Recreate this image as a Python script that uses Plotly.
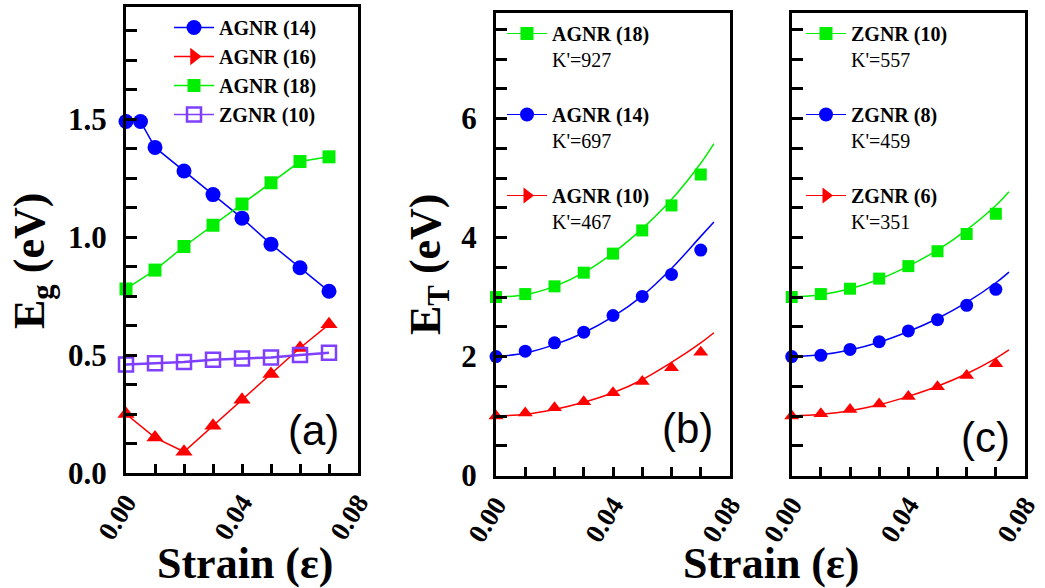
import plotly.graph_objects as go

# ---------------- data ----------------
# (a) band gap vs. uniaxial strain
strain_a = [0.0, 0.01, 0.02, 0.03, 0.04, 0.05, 0.06, 0.07]
strain_a14 = [0.0, 0.005, 0.01, 0.02, 0.03, 0.04, 0.05, 0.06, 0.07]
eg_agnr14 = [1.49, 1.49, 1.38, 1.28, 1.18, 1.08, 0.97, 0.87, 0.77]
eg_agnr16 = [0.25, 0.15, 0.09, 0.20, 0.31, 0.42, 0.53, 0.63]
eg_agnr18 = [0.78, 0.86, 0.96, 1.05, 1.14, 1.23, 1.32, 1.34]
eg_zgnr10 = [0.46, 0.465, 0.47, 0.48, 0.485, 0.49, 0.50, 0.51]

# (b), (c) total energy vs. strain (symbols) and fitted curves (lines)
strain_t = [0.0, 0.01, 0.02, 0.03, 0.04, 0.05, 0.06, 0.07]
strain_fit = [0.0, 0.01, 0.02, 0.03, 0.04, 0.05, 0.06, 0.07, 0.0745]

et_agnr18 = [3.00, 3.05, 3.18, 3.41, 3.73, 4.12, 4.54, 5.06]
et_agnr14 = [2.00, 2.09, 2.23, 2.41, 2.69, 3.01, 3.38, 3.79]
et_agnr10 = [1.00, 1.05, 1.14, 1.24, 1.39, 1.58, 1.81, 2.07]
fit_agnr18 = [3.00, 3.04, 3.18, 3.41, 3.74, 4.15, 4.64, 5.25, 5.58]
fit_agnr14 = [2.00, 2.06, 2.20, 2.40, 2.67, 3.02, 3.48, 4.02, 4.26]
fit_agnr10 = [1.00, 1.03, 1.11, 1.23, 1.39, 1.61, 1.90, 2.23, 2.40]

et_zgnr10 = [3.00, 3.05, 3.14, 3.31, 3.52, 3.77, 4.06, 4.40]
et_zgnr8 = [2.00, 2.02, 2.12, 2.25, 2.43, 2.62, 2.86, 3.13]
et_zgnr6 = [1.00, 1.04, 1.11, 1.20, 1.33, 1.49, 1.68, 1.88]
fit_zgnr10 = [3.00, 3.04, 3.14, 3.30, 3.52, 3.79, 4.13, 4.54, 4.77]
fit_zgnr8 = [2.00, 2.03, 2.11, 2.24, 2.42, 2.64, 2.91, 3.24, 3.42]
fit_zgnr6 = [1.00, 1.03, 1.09, 1.19, 1.33, 1.50, 1.71, 1.97, 2.11]

names_a = ["AGNR (14)", "AGNR (16)", "AGNR (18)", "ZGNR (10)"]
names_b = ["AGNR (18)", "AGNR (14)", "AGNR (10)"]
kappa_b = ["927", "697", "467"]
names_c = ["ZGNR (10)", "ZGNR (8)", "ZGNR (6)"]
kappa_c = ["557", "459", "351"]

BLUE = "#0000FF"
RED = "#FF0000"
GREEN = "#00EE00"
PURPLE = "#7F3FFF"
SERIF = "Liberation Serif"

W, H = 1045, 588

fig = go.Figure()


def px_x(a, b):
    return [a / W, b / W]


def px_y(top, bottom):
    return [(H - bottom) / H, (H - top) / H]


# ---------------- panel (a) ----------------
def line_marker(x, y, color, symbol, size, ax, lw=1.5, mlw=0):
    marker = dict(symbol=symbol, size=size, color=color, line=dict(color=color, width=mlw))
    return go.Scatter(x=x, y=y, mode="lines+markers", line=dict(color=color, width=lw),
                      marker=marker, xaxis="x" + ax, yaxis="y" + ax,
                      showlegend=False, cliponaxis=False)


fig.add_trace(line_marker(strain_a14, eg_agnr14, BLUE, "circle", 15, ""))
fig.add_trace(line_marker(strain_a, eg_agnr16, RED, "triangle-up", 15, ""))
fig.add_trace(line_marker(strain_a, eg_agnr18, GREEN, "square", 13, ""))
fig.add_trace(line_marker(strain_a, eg_zgnr10, PURPLE, "square-open", 14, "", lw=2.5, mlw=2.5))

# legend entries for (a)
leg_a = [(BLUE, "circle", 15, 0), (RED, "triangle-right", 15, 0),
         (GREEN, "square", 13, 0), (PURPLE, "square-open", 14, 2.5)]
for name, (c, s, sz, mlw) in zip(names_a, leg_a):
    fig.add_trace(go.Scatter(x=[None], y=[None], mode="lines+markers", name=name,
                             line=dict(color=c, width=1.5),
                             marker=dict(symbol=s, size=sz, color=c,
                                         line=dict(color=c, width=mlw)),
                             legend="legend", showlegend=True))


# ---------------- panels (b), (c) ----------------
def energy_panel(ax, legend, series):
    for name, kap, pts, fit, color, symbol, size in series:
        fig.add_trace(go.Scatter(x=strain_fit, y=fit, mode="lines",
                                 line=dict(color=color, width=1.5, shape="spline"),
                                 xaxis="x" + ax, yaxis="y" + ax, showlegend=False,
                                 cliponaxis=False))
        fig.add_trace(go.Scatter(x=strain_t, y=pts, mode="markers",
                                 marker=dict(symbol=symbol, size=size, color=color),
                                 xaxis="x" + ax, yaxis="y" + ax, showlegend=False,
                                 cliponaxis=False))
    for name, kap, pts, fit, color, symbol, size in series:
        leg_sym = "triangle-right" if symbol == "triangle-up" else symbol
        fig.add_trace(go.Scatter(x=[None], y=[None], mode="lines+markers",
                                 name="<b>%s</b><br>K'=%s" % (name, kap),
                                 line=dict(color=color, width=1.2),
                                 marker=dict(symbol=leg_sym, size=size + 1, color=color),
                                 legend=legend, legendgroup=legend + name,
                                 showlegend=True))


energy_panel("2", "legend2", [
    (names_b[0], kappa_b[0], et_agnr18, fit_agnr18, GREEN, "square", 12),
    (names_b[1], kappa_b[1], et_agnr14, fit_agnr14, BLUE, "circle", 13),
    (names_b[2], kappa_b[2], et_agnr10, fit_agnr10, RED, "triangle-up", 13),
])
energy_panel("3", "legend3", [
    (names_c[0], kappa_c[0], et_zgnr10, fit_zgnr10, GREEN, "square", 12),
    (names_c[1], kappa_c[1], et_zgnr8, fit_zgnr8, BLUE, "circle", 13),
    (names_c[2], kappa_c[2], et_zgnr6, fit_zgnr6, RED, "triangle-up", 13),
])

# ---------------- axes ----------------
tick_font_y = dict(family=SERIF, size=31, color="black", weight="bold")
tick_font_x = dict(family=SERIF, size=27, color="black", weight="bold")


def xaxis(domain, anchor):
    return dict(domain=domain, anchor=anchor, range=[0, 0.08], tickmode="array",
                tickvals=[0, 0.04, 0.08], ticktext=["0.00", "0.04", "0.08"],
                ticks="inside", ticklen=9, tickwidth=2.5, tickcolor="black",
                minor=dict(tickmode="linear", tick0=0, dtick=0.01, ticks="inside",
                           ticklen=9, tickwidth=2.5, tickcolor="black"),
                tickangle=-58, tickfont=tick_font_x, ticklabelstandoff=0,
                showline=True, linewidth=3, linecolor="black", mirror=True,
                showgrid=False, zeroline=False, automargin=False)


def yaxis(domain, anchor, rng, vals, labels, minor_dt, show_labels=True):
    return dict(domain=domain, anchor=anchor, range=rng, tickmode="array",
                tickvals=vals, ticktext=labels, showticklabels=show_labels,
                ticks="inside", ticklen=11, tickwidth=2.5, tickcolor="black",
                minor=dict(tickmode="linear", tick0=0, dtick=minor_dt, ticks="inside",
                           ticklen=11, tickwidth=2.5, tickcolor="black"),
                tickfont=tick_font_y, ticklabelstandoff=10,
                showline=True, linewidth=3, linecolor="black", mirror=True,
                showgrid=False, zeroline=False, automargin=False)


ydom_a = px_y(7, 473)
ydom_bc = px_y(12.7, 475.5)

fig.update_layout(
    xaxis=xaxis(px_x(126, 358), "y"),
    yaxis=yaxis(ydom_a, "x", [0, 1.975], [0, 0.5, 1.0, 1.5],
                ["0.0", "0.5", "1.0", "1.5"], 0.125),
    xaxis2=xaxis(px_x(496, 730), "y2"),
    yaxis2=yaxis(ydom_bc, "x2", [0, 7.78], [0, 2, 4, 6], ["0", "2", "4", "6"], 0.5),
    xaxis3=xaxis(px_x(791.7, 1025), "y3"),
    yaxis3=yaxis(ydom_bc, "x3", [0, 7.78], [0, 2, 4, 6], ["0", "2", "4", "6"], 0.5,
                 show_labels=False),
)

legend_font = dict(family=SERIF, size=20, color="black")
fig.update_layout(
    legend=dict(x=169 / W, y=1 - 8 / H, xanchor="left", yanchor="top",
                font=dict(family=SERIF, size=20, color="black", weight="bold"),
                bgcolor="rgba(0,0,0,0)", itemwidth=40, tracegroupgap=0),
    legend2=dict(x=502 / W, y=1 - 14 / H, xanchor="left", yanchor="top",
                 font=legend_font, bgcolor="rgba(0,0,0,0)", itemwidth=40,
                 tracegroupgap=26, valign="top"),
    legend3=dict(x=801 / W, y=1 - 14 / H, xanchor="left", yanchor="top",
                 font=legend_font, bgcolor="rgba(0,0,0,0)", itemwidth=40,
                 tracegroupgap=26, valign="top"),
)

# ---------------- titles and panel labels ----------------
title_font = dict(family=SERIF, size=44, color="black", weight="bold")
label_font = dict(family="Liberation Sans", size=42, color="black")


def note(text, x, y, font, angle=0):
    fig.add_annotation(text=text, x=x / W, y=1 - y / H, xref="paper", yref="paper",
                       showarrow=False, font=font, textangle=angle,
                       xanchor="center", yanchor="middle")


note("E<sub>g</sub> (eV)", 32, 261, title_font, -90)
note("E<sub>T</sub> (eV)", 428, 264, title_font, -90)
note("Strain (ε)", 245, 563, title_font)
note("Strain (ε)", 771, 563, title_font)
note("(a)", 313, 430, label_font)
note("(b)", 687, 428, label_font)
note("(c)", 985, 437, label_font)

fig.update_layout(width=W, height=H, margin=dict(l=0, r=0, t=0, b=0),
                  paper_bgcolor="white", plot_bgcolor="white")

fig.write_html("out.html")
